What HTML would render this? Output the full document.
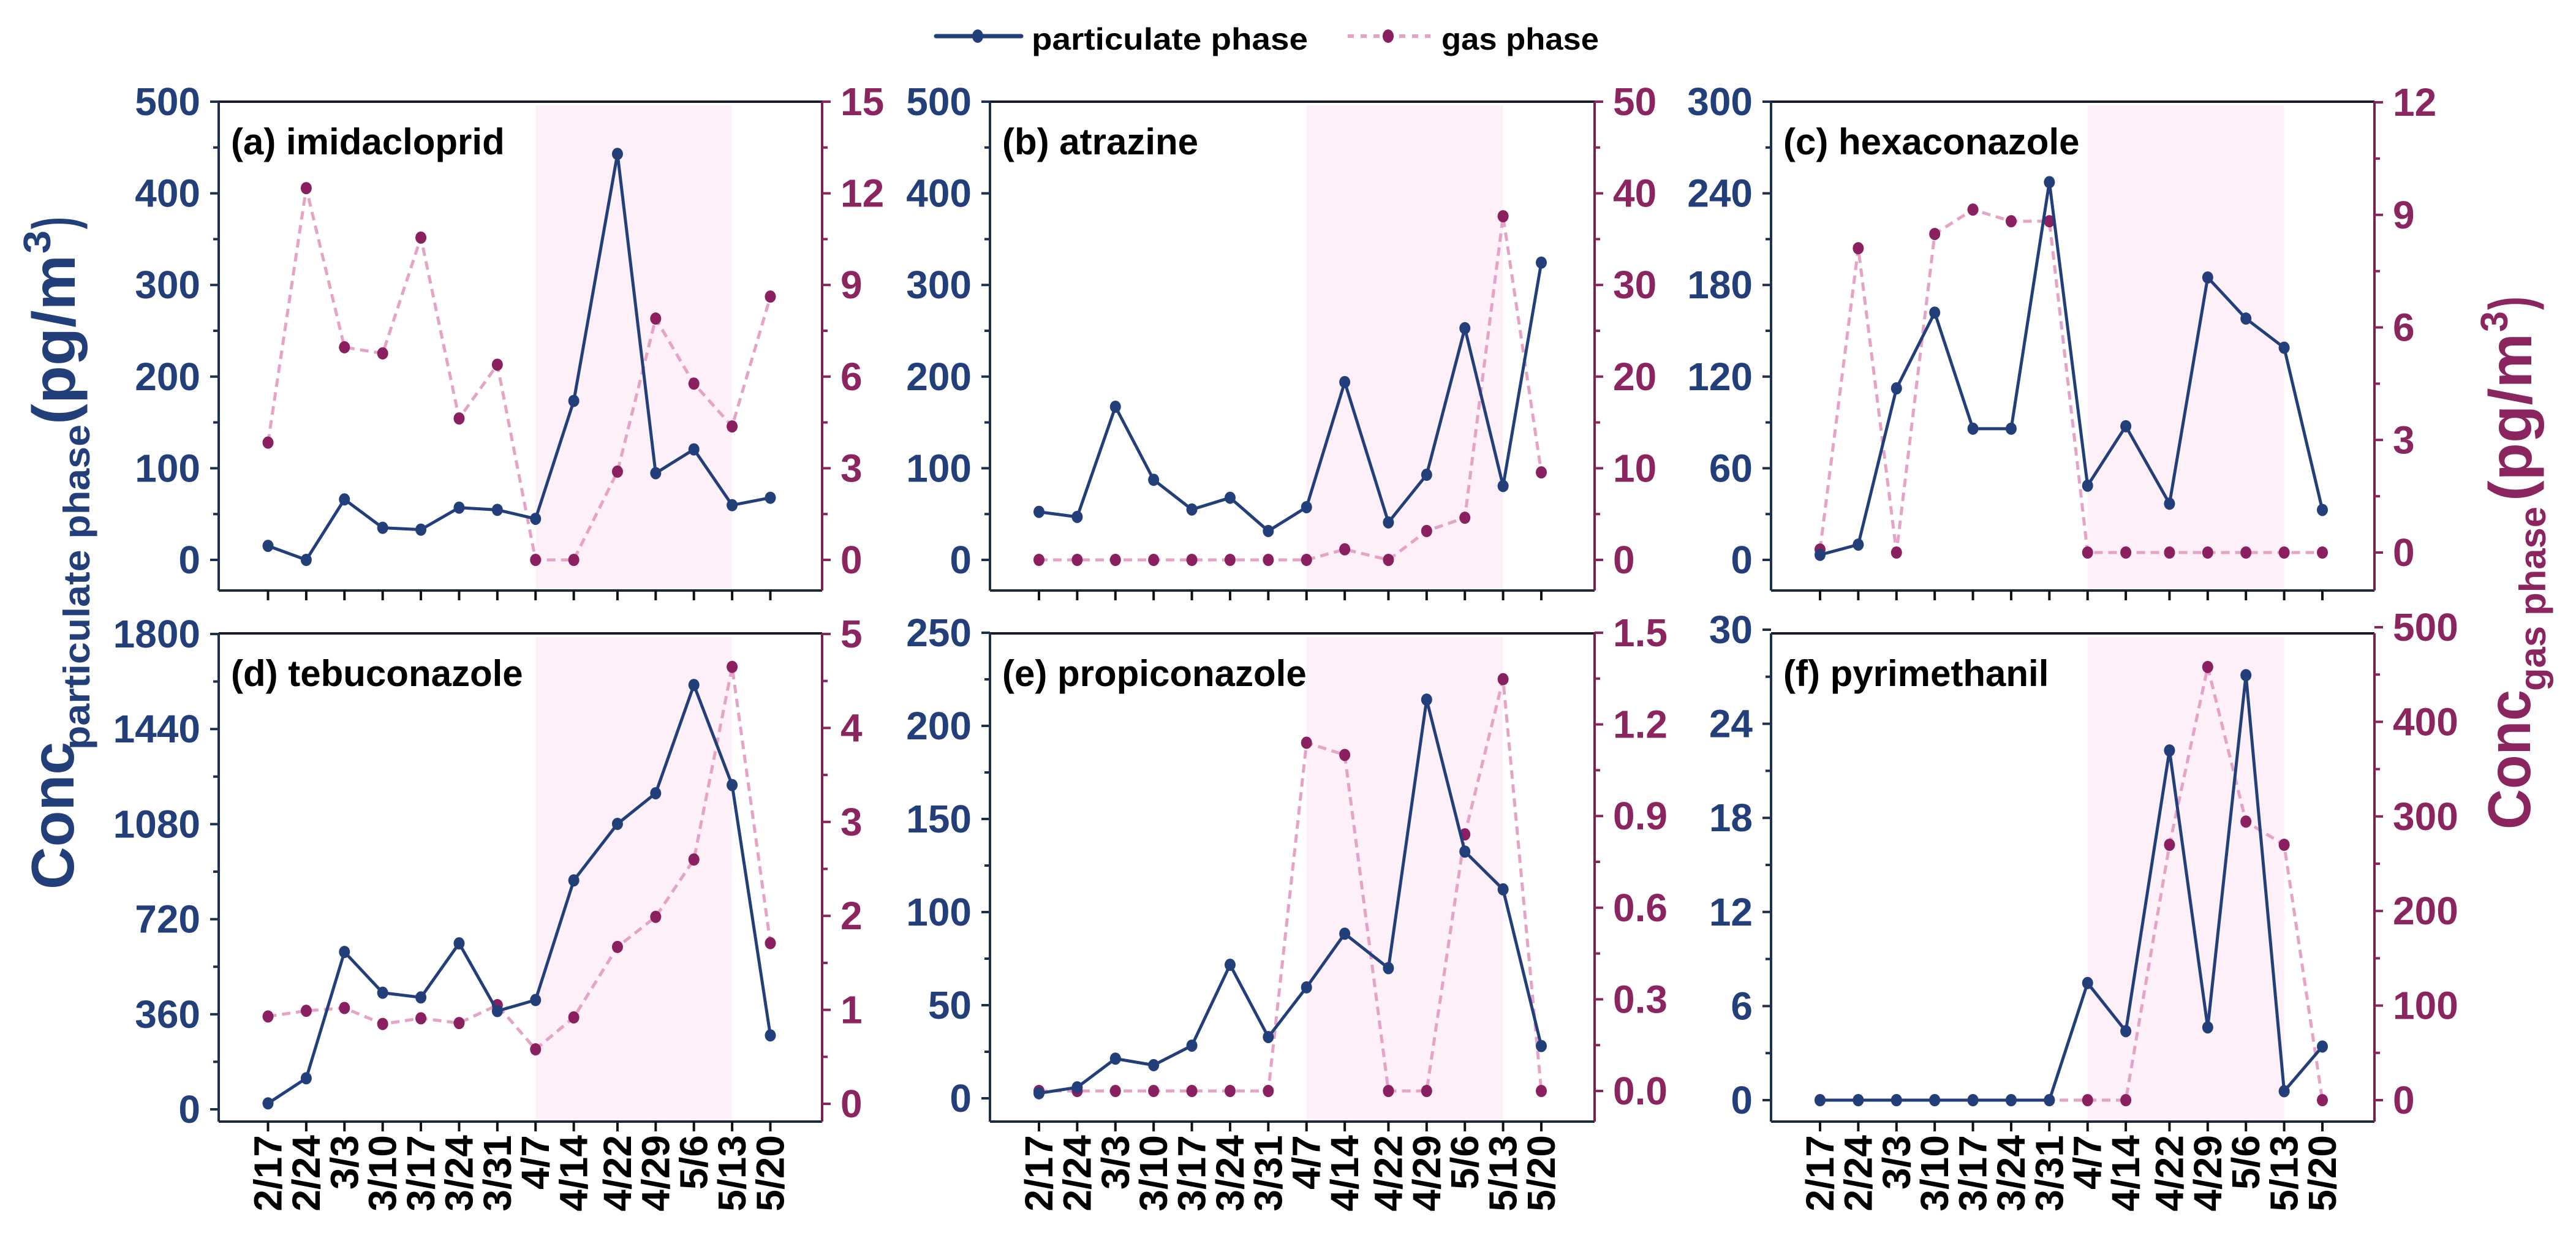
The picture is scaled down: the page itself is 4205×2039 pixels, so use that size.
<!DOCTYPE html>
<html><head><meta charset="utf-8"><style>
html,body{margin:0;padding:0;background:#fff;}
svg{display:block;font-family:"Liberation Sans",sans-serif;font-weight:bold;}
</style></head><body>
<svg id="chart" width="4205" height="2039" viewBox="0 0 4205 2039" xmlns="http://www.w3.org/2000/svg">
<g>
 <line x1="1528" y1="59" x2="1667" y2="59" stroke="#233f7a" stroke-width="7" stroke-linecap="round"/>
 <ellipse cx="1596" cy="59" rx="9" ry="11" fill="#233f7a"/>
 <text x="1684" y="81" font-size="50" textLength="451" lengthAdjust="spacingAndGlyphs" fill="#000">particulate phase</text>
 <line x1="2200" y1="59" x2="2335" y2="59" stroke="#e6a3c8" stroke-width="6" stroke-dasharray="10,11"/>
 <ellipse cx="2266" cy="59" rx="9" ry="11" fill="#8b2060"/>
 <text x="2353" y="81" font-size="50" textLength="257" lengthAdjust="spacingAndGlyphs" fill="#000">gas phase</text>
</g>
<g fill="#233f7a">
 <text transform="translate(120,1452) rotate(-90)" font-size="98" textLength="241" lengthAdjust="spacingAndGlyphs">Conc</text>
 <text transform="translate(146,1224) rotate(-90)" font-size="60" textLength="531" lengthAdjust="spacingAndGlyphs">particulate phase</text>
 <text transform="translate(122,693) rotate(-90)" font-size="98" textLength="277" lengthAdjust="spacingAndGlyphs">(pg/m</text>
 <text transform="translate(82,414) rotate(-90)" font-size="62" textLength="38" lengthAdjust="spacingAndGlyphs">3</text>
 <text transform="translate(122,374) rotate(-90)" font-size="98" textLength="20" lengthAdjust="spacingAndGlyphs">)</text>
</g>
<g fill="#8b2560">
 <text transform="translate(4130,1354) rotate(-90)" font-size="98" textLength="228" lengthAdjust="spacingAndGlyphs">Conc</text>
 <text transform="translate(4155,1128) rotate(-90)" font-size="60" textLength="301" lengthAdjust="spacingAndGlyphs">gas phase</text>
 <text transform="translate(4132,818) rotate(-90)" font-size="98" textLength="274" lengthAdjust="spacingAndGlyphs">(pg/m</text>
 <text transform="translate(4093,542) rotate(-90)" font-size="62" textLength="34" lengthAdjust="spacingAndGlyphs">3</text>
 <text transform="translate(4132,506) rotate(-90)" font-size="98" textLength="22" lengthAdjust="spacingAndGlyphs">)</text>
</g>
</svg>
<script>
const days = [0,7,14,21,28,35,42,49,56,64,71,78,85,92];
const dates = ["2/17","2/24","3/3","3/10","3/17","3/24","3/31","4/7","4/14","4/22","4/29","5/6","5/13","5/20"];
const titles = ["(a) imidacloprid","(b) atrazine","(c) hexaconazole","(d) tebuconazole","(e) propiconazole","(f) pyrimethanil"];
const partA = [15.3,0,66,35,33,57,54.6,44.8,173.5,443,94.6,120.6,59.7,67.8];
const gasA = [3.84,12.17,6.96,6.76,10.55,4.63,6.39,0,0,2.89,7.90,5.77,4.37,8.62];
const partB = [52.4,46.9,167.1,87.4,55,67.8,31.5,57.5,194,40.9,92.9,252.8,80.6,324.4];
const gasB = [0,0,0,0,0,0,0,0,1.15,0,3.15,4.6,37.5,9.55];
const partC = [3.3,10,112.3,161.9,85.9,85.9,247.3,48.6,87.5,36.8,184.9,158,138.9,32.7];
const gasC = [0.08,8.11,0,8.49,9.14,8.83,8.83,0,0,0,0,0,0,0];
const partD = [22.6,117.6,596,441.5,423.8,628.5,372.3,414,867,1081,1197,1607,1228,280];
const gasD = [0.93,0.99,1.02,0.85,0.91,0.86,1.05,0.58,0.92,1.67,1.99,2.60,4.65,1.71];
const partE = [2.7,5.9,21.3,17.8,28.3,71.7,32.9,59.6,88.4,69.9,214.1,132.5,112.2,28.1];
const gasE = [0,0,0,0,0,0,0,1.14,1.10,0,0,0.84,1.348,0];
const partF = [0,0,0,0,0,0,0,7.47,4.40,22.3,4.64,27.1,0.57,3.42];
const gasF = [0,0,0,0,0,0,0,0,0,270,458,294.5,270,0];
const leftMax = [500,500,300,1800,250,30];
const leftStep = [100,100,60,360,50,6];
const rightMax = [15,50,12,5,1.5,500];
const rightStep = [3,10,3,1,0.3,100];
const rightDecimals = [0,0,0,0,1,0];
const shadeStartDay = 49, shadeEndDay = 85;

const NS = "http://www.w3.org/2000/svg";
const svg = document.getElementById("chart");
const cols = [[357,1342,437.5],[1616,2603,1696],[2891,3876,2971]];
const rows = [[166,964],[1034,1831]];
const geoL = [[166,914],[166,914],[166,914],[1035,1811],[1033,1793],[1028,1796]];
const geoR = [[166,914],[166,914],[167,902],[1035,1802],[1033,1781],[1024,1796]];
const pxDay = 820/92;
const NAVY = "#233f7a", MAROON = "#8b2560", GASDOT = "#8b2060", PINK = "#e6a3c8";
function mk(tag, attrs, parent){const e=document.createElementNS(NS,tag);for(const k in attrs)e.setAttribute(k,attrs[k]);(parent||svg).appendChild(e);return e;}
const partAll=[partA,partB,partC,partD,partE,partF];
const gasAll=[gasA,gasB,gasC,gasD,gasE,gasF];
const keys=["a","b","c","d","e","f"];
for(let p=0;p<6;p++){
  const c=cols[p%3], r=rows[Math.floor(p/3)];
  const [L,R,x0]=c, [T,B]=r;
  const xS=d=>x0+d*pxDay;
  const yL=v=>geoL[p][1]-(geoL[p][1]-geoL[p][0])*v/leftMax[p];
  const yR=v=>geoR[p][1]-(geoR[p][1]-geoR[p][0])*v/rightMax[p];
  const g=mk("g",{});
  
  
  const sh=mk("rect",{x:xS(shadeStartDay),y:T+6,width:xS(shadeEndDay)-xS(shadeStartDay),height:B-T-6,fill:"#fdf0f8"},g);
  
  
  mk("line",{x1:L,y1:T,x2:R,y2:T,stroke:"#1a1a2a","stroke-width":4},g);
  mk("line",{x1:L,y1:B,x2:R,y2:B,stroke:"#1a2a3a","stroke-width":4},g);
  mk("line",{x1:L,y1:T,x2:L,y2:B,stroke:"#1c3050","stroke-width":4},g);
  mk("line",{x1:R,y1:T,x2:R,y2:B,stroke:"#7a2050","stroke-width":4},g);
  const lm=leftMax[p], ls=leftStep[p];
  for(let i=0;i<=Math.round(lm/ls);i++){
    const v=i*ls, y=yL(v);
    mk("line",{x1:L-14,y1:y,x2:L,y2:y,stroke:"#1c3050","stroke-width":4},g);
    const t=mk("text",{x:L-30,y:y+22,"text-anchor":"end","font-size":64,fill:NAVY},g);
    t.textContent=String(v);
    
    
    if(i<Math.round(lm/ls)){const ym=yL(v+ls/2);mk("line",{x1:L-9,y1:ym,x2:L,y2:ym,stroke:"#1c3050","stroke-width":4},g);}
  }
  const rm=rightMax[p], rs=rightStep[p];
  for(let i=0;i<=Math.round(rm/rs);i++){
    const v=i*rs, y=yR(v);
    mk("line",{x1:R,y1:y,x2:R+14,y2:y,stroke:MAROON,"stroke-width":4},g);
    const t=mk("text",{x:R+30,y:y+22,"font-size":64,fill:MAROON},g);
    t.textContent=v.toFixed(rightDecimals[p]);
    
    
    if(i<Math.round(rm/rs)){const ym=yR(v+rs/2);mk("line",{x1:R,y1:ym,x2:R+9,y2:ym,stroke:MAROON,"stroke-width":4},g);}
  }
  for(let i=0;i<days.length;i++){
    const x=xS(days[i]);
    mk("line",{x1:x,y1:B,x2:x,y2:B+16,stroke:"#111","stroke-width":4},g);
    if(p>=3){
      const t=mk("text",{transform:`translate(${x+22},${B+22}) rotate(-90)`,"text-anchor":"end","font-size":64,fill:"#000"},g);
      t.textContent=dates[i];
      
      
    }
  }
  const tt=mk("text",{x:L+20,y:T+86,"font-size":60,fill:"#000"},g);
  tt.textContent=titles[p];
  
  
  const gs=gasAll[p], ps=partAll[p];
  const gl=mk("polyline",{points:gs.map((v,i)=>xS(days[i])+","+yR(v)).join(" "),fill:"none",stroke:PINK,"stroke-width":5,"stroke-dasharray":"14,9"},g);
  
  
  gs.forEach((v,i)=>{const m=mk("ellipse",{cx:xS(days[i]),cy:yR(v),rx:9,ry:10,fill:GASDOT},g);
    
    });
  const pl=mk("polyline",{points:ps.map((v,i)=>xS(days[i])+","+yL(v)).join(" "),fill:"none",stroke:NAVY,"stroke-width":5,"stroke-linejoin":"round"},g);
  
  
  ps.forEach((v,i)=>{const m=mk("ellipse",{cx:xS(days[i]),cy:yL(v),rx:9,ry:10,fill:NAVY},g);
    
    });
}
</script>
</body></html>
